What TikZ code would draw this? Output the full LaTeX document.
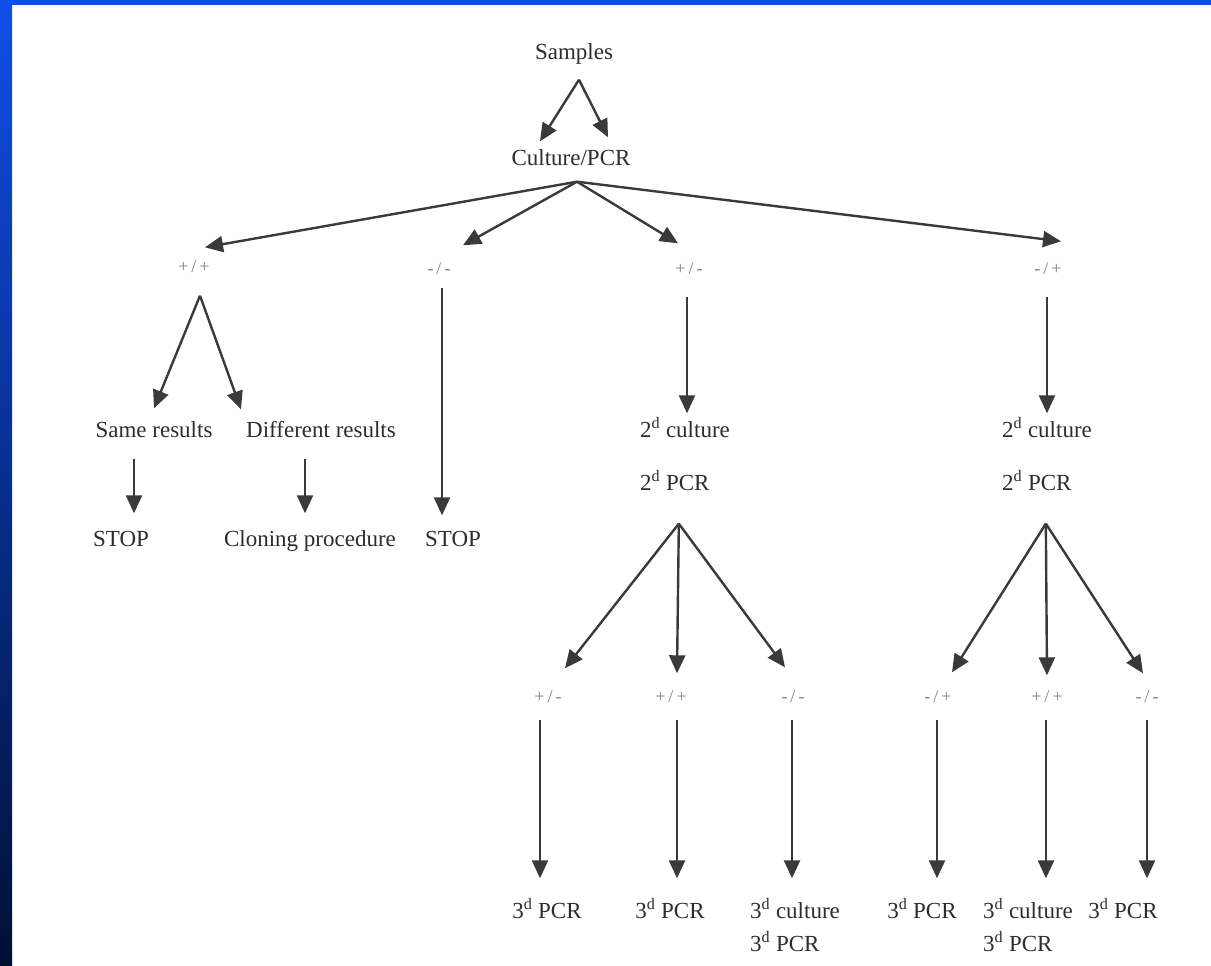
\documentclass[tikz,border=0pt]{standalone}
\usepackage{fontspec}
\setmainfont{Liberation Serif}
\usetikzlibrary{arrows.meta,positioning}
\definecolor{barblue}{RGB}{16,78,232}
\definecolor{barnavy}{RGB}{0,15,52}
\definecolor{inkgray}{RGB}{45,45,45}
\definecolor{signgray}{RGB}{130,130,130}
\definecolor{arrgray}{RGB}{58,58,58}

\begin{document}
\begin{tikzpicture}[x=1pt, y=-1pt,
    txt/.style={inner sep=0pt, text=inkgray, font=\fontsize{23}{26}\selectfont,
        text height=16pt, text depth=5pt},
    sign/.style={inner sep=0pt, text=signgray, font=\fontsize{18}{20}\selectfont,
        text height=12pt, text depth=3pt},
    arr/.style={draw=arrgray, line width=2.4pt, -{Triangle[length=18pt,width=16pt]}},
    vert/.style={arr, shorten <=#1}
]
    \useasboundingbox (0,0) rectangle (1211,966);
    \fill[white] (0,0) rectangle (1211,966);
    \fill[barblue] (0,0) rectangle (1211,5);
    \shade[top color=barblue, bottom color=barnavy] (0,0) rectangle (12,966);

    \node[txt] (samples) at (574,54) {Samples};
    \node[txt] (culture) at (571,160) {Culture/PCR};
    \node[sign] (pp) at (194,268) {+\,/\,+};
    \node[sign] (mm) at (439,270) {-\,/\,-};
    \node[sign] (pm) at (689,270) {+\,/\,-};
    \node[sign] (mp) at (1048,270) {-\,/\,+};
    \node[txt] (same) at (154,432) {Same results};
    \node[txt] (diff) at (321,432) {Different results};
    \node[txt] (stopa) at (121,541) {STOP};
    \node[txt] (cloning) at (310,541) {Cloning procedure};
    \node[txt] (stopb) at (453,541) {STOP};
    \node[txt, anchor=west] (cult2a) at (640,432) {2\textsuperscript{d} culture};
    \node[txt, below=53pt of cult2a.west, anchor=west] (pcr2a) {2\textsuperscript{d} PCR};
    \node[txt, anchor=west] (cult2b) at (1002,432) {2\textsuperscript{d} culture};
    \node[txt, below=53pt of cult2b.west, anchor=west] (pcr2b) {2\textsuperscript{d} PCR};
    \node[sign] (la) at (548,698) {+\,/\,-};
    \node[sign] (lb) at (671,698) {+\,/\,+};
    \node[sign] (lc) at (793,698) {-\,/\,-};
    \node[sign] (ld) at (938,698) {-\,/\,+};
    \node[sign] (le) at (1047,698) {+\,/\,+};
    \node[sign] (lf) at (1147,698) {-\,/\,-};
    \node[txt] (pcr3a) at (547,913) {3\textsuperscript{d} PCR};
    \node[txt] (pcr3b) at (670,913) {3\textsuperscript{d} PCR};
    \node[txt, anchor=west] (cult3c) at (750,913) {3\textsuperscript{d} culture};
    \node[txt, below=33pt of cult3c.west, anchor=west] (pcr3c) {3\textsuperscript{d} PCR};
    \node[txt] (pcr3d) at (922,913) {3\textsuperscript{d} PCR};
    \node[txt, anchor=west] (cult3e) at (983,913) {3\textsuperscript{d} culture};
    \node[txt, below=33pt of cult3e.west, anchor=west] (pcr3e) {3\textsuperscript{d} PCR};
    \node[txt] (pcr3f) at (1123,913) {3\textsuperscript{d} PCR};

    \coordinate (sfork) at ([xshift=5pt,yshift=-15pt]samples.south);
    \coordinate (cfork) at ([xshift=6pt,yshift=-11pt]culture.south);
    \coordinate (ppfork) at ([xshift=6pt,yshift=-20pt]pp.south);
    \coordinate (forka) at ([xshift=4pt,yshift=-28pt]pcr2a.south);
    \coordinate (forkb) at ([xshift=9pt,yshift=-28pt]pcr2b.south);

    \draw[arr] (sfork) -- ([xshift=-31pt,yshift=8pt]culture.north);
    \draw[arr] (sfork) -- ([xshift=37pt,yshift=12pt]culture.north);
    \draw[arr] (cfork) -- ([xshift=11pt,yshift=13pt]pp.north);
    \draw[arr] (cfork) -- ([xshift=24pt,yshift=17pt]mm.north);
    \draw[arr] (cfork) -- ([xshift=-11pt,yshift=19pt]pm.north);
    \draw[arr] (cfork) -- ([xshift=13pt,yshift=21pt]mp.north);
    \draw[arr] (ppfork) -- ([yshift=13pt]same.north);
    \draw[arr] (ppfork) -- ([xshift=-5pt,yshift=12pt]diff.north west);
    \draw[vert=16pt, shorten >=17pt] ([xshift=13pt]stopa.north |- same.south) -- ([xshift=13pt]stopa.north);
    \draw[vert=16pt, shorten >=17pt] ([xshift=-5pt]cloning.north |- diff.south) -- ([xshift=-5pt]cloning.north);
    \draw[vert=10pt, shorten >=15pt] ([xshift=-11pt]stopb.north |- mm.south) -- ([xshift=-11pt]stopb.north);
    \draw[vert=19pt, shorten >=8pt] ([xshift=-2pt]pm.south) -- ([xshift=-2pt]pm.south |- cult2a.north);
    \draw[vert=19pt, shorten >=8pt] ([xshift=-1pt]mp.south) -- ([xshift=-1pt]mp.south |- cult2b.north);
    \draw[arr] (forka) -- ([xshift=17pt,yshift=22pt]la.north);
    \draw[arr] (forka) -- ([xshift=6pt,yshift=17pt]lb.north);
    \draw[arr] (forka) -- ([xshift=-8pt,yshift=23pt]lc.north);
    \draw[arr] (forkb) -- ([xshift=14pt,yshift=18pt]ld.north);
    \draw[arr] (forkb) -- ([yshift=15pt]le.north);
    \draw[arr] (forkb) -- ([xshift=-4pt,yshift=17pt]lf.north);
    \draw[vert=14pt, shorten >=24pt] ([xshift=-8pt]la.south) -- ([xshift=-8pt]la.south |- pcr3a.north);
    \draw[vert=14pt, shorten >=24pt] ([xshift=6pt]lb.south) -- ([xshift=6pt]lb.south |- pcr3b.north);
    \draw[vert=14pt, shorten >=24pt] ([xshift=-1pt]lc.south) -- ([xshift=-1pt]lc.south |- cult3c.north);
    \draw[vert=14pt, shorten >=24pt] ([xshift=-1pt]ld.south) -- ([xshift=-1pt]ld.south |- pcr3d.north);
    \draw[vert=14pt, shorten >=24pt] ([xshift=-1pt]le.south) -- ([xshift=-1pt]le.south |- cult3e.north);
    \draw[vert=14pt, shorten >=24pt] (lf.south) -- (lf.south |- pcr3f.north);
\end{tikzpicture}
\end{document}
